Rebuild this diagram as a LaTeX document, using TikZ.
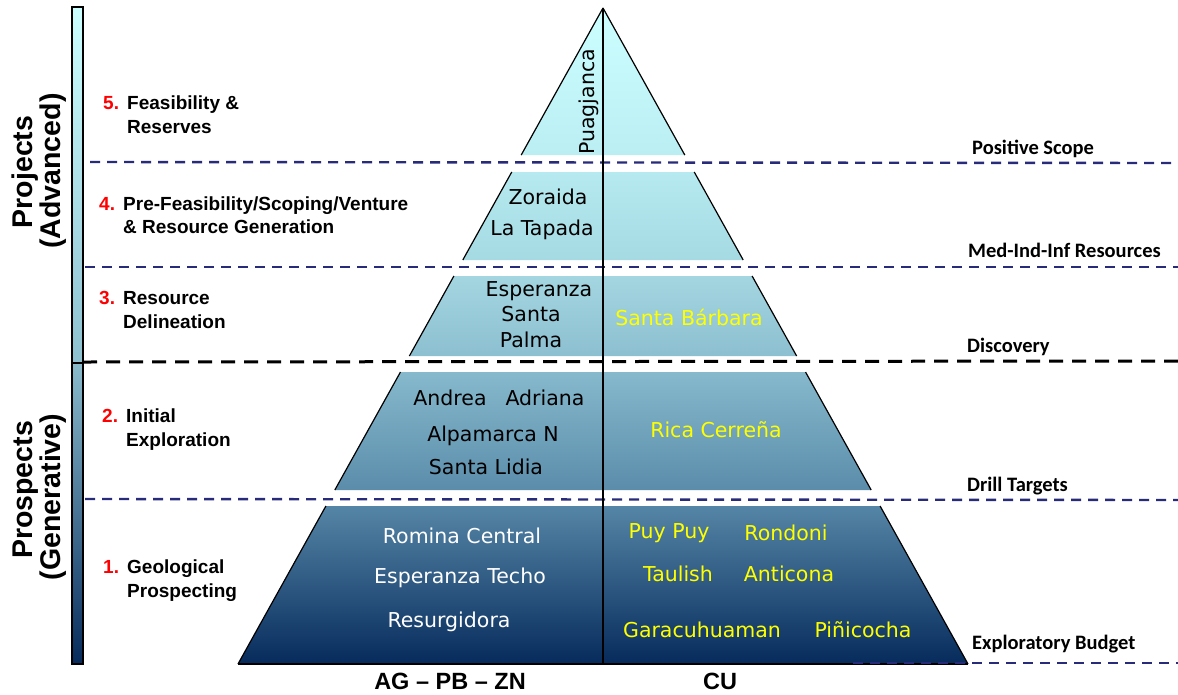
\documentclass[tikz,border=0pt]{standalone}
\usepackage{fontspec}
\setmainfont{Liberation Sans}
\newfontfamily\dvfont{DejaVu Sans}
\newfontfamily\calfont{Carlito}
\definecolor{navy}{RGB}{40,42,122}
\definecolor{ylw}{RGB}{255,255,0}
\newcommand\pyrband[4]{%
 \pgfmathsetmacro\hwa{0.5564*(#1-8)}%
 \pgfmathsetmacro\hwb{0.5564*(#2-8)}%
 \shade[top color=#3,bottom color=#4] ({603-\hwa},-#1) -- ({603+\hwa},-#1) -- ({603+\hwb},-#2) -- ({603-\hwb},-#2) -- cycle;
 \draw[edgeln] ({603-\hwa},-#1) -- ({603-\hwb},-#2);
 \draw[edgeln] ({603+\hwa},-#1) -- ({603+\hwb},-#2);}
\begin{document}
\begin{tikzpicture}[x=1pt,y=1pt,
  stage/.style={font=\fontsize{19}{22}\selectfont\bfseries, anchor=base west, inner sep=0},
  num/.style={stage, text=red},
  gate/.style={font=\calfont\fontsize{20.5}{24}\selectfont\bfseries, anchor=base west, inner sep=0},
  ptxt/.style={font=\dvfont\fontsize{20.5}{24}\selectfont, anchor=base, inner sep=0},
  ytxt/.style={ptxt, text=ylw},
  wtxt/.style={ptxt, text=white},
  side/.style={font=\fontsize{28.5}{32}\selectfont\bfseries, rotate=90, anchor=base, inner sep=0},
  bottxt/.style={font=\fontsize{23.5}{28}\selectfont\bfseries, anchor=base, inner sep=0},
  gateline/.style={navy, line width=2.4pt, dash pattern=on 10pt off 7pt},
  discline/.style={black, line width=3pt, dash pattern=on 14pt off 9pt},
  edgeln/.style={black, line width=1.2pt},
  barbox/.style={draw=black, line width=1.5pt}]
\useasboundingbox (0,0) rectangle (1178,-694);
% gate lines
\coordinate (g1a) at (90,-162); \coordinate (g1b) at (1178,-163);
\coordinate (g2a) at (85,-267); \coordinate (g2b) at (1178,-267);
\coordinate (g3a) at (83,-362); \coordinate (g3b) at (1178,-361);
\coordinate (g4a) at (85,-499); \coordinate (g4b) at (1178,-500);
\coordinate (g5a) at (853,-663); \coordinate (g5b) at (1178,-663);
\draw[gateline] (g1a) -- (g1b);
\draw[gateline] (g2a) -- (g2b);
\draw[discline] (g3a) -- (g3b);
\draw[gateline] (g4a) -- (g4b);
% left bar
\shade[top color={rgb,255:red,204;green,255;blue,255}, bottom color={rgb,255:red,141;green,192;blue,208}] (72,-7) rectangle (83,-363);
\shade[top color={rgb,255:red,138;green,187;blue,204}, bottom color={rgb,255:red,6;green,43;blue,92}] (72,-363) rectangle (83,-664);
\draw[barbox] (72,-7) rectangle (83,-363);
\draw[barbox] (72,-363) rectangle (83,-664);
% pyramid
\pyrband{8}{155}{{rgb,255:red,204;green,255;blue,255}}{{rgb,255:red,186;green,238;blue,243}}
\pyrband{172}{260}{{rgb,255:red,182;green,234;blue,240}}{{rgb,255:red,165;green,218;blue,227}}
\pyrband{276}{356}{{rgb,255:red,164;green,214;blue,225}}{{rgb,255:red,140;green,191;blue,208}}
\pyrband{372}{490}{{rgb,255:red,134;green,185;blue,204}}{{rgb,255:red,91;green,141;blue,171}}
\pyrband{506}{664}{{rgb,255:red,85;green,133;blue,166}}{{rgb,255:red,6;green,43;blue,92}}
\coordinate (apex) at (603,-8);
\coordinate (bl) at (238,-664);
\coordinate (br) at (968,-664);
\coordinate (bc) at (603,-664);
\draw[edgeln] (bl) -- (br);
\draw[black, line width=1.5pt] (apex) -- (bc);
\draw[gateline] (g5a) -- (g5b);
% pyramid texts
\node[ptxt, rotate=90] (pua) at (594,-102) {Puagjanca};
\node[ptxt] (zor) at (548,-204) {Zoraida};
\node[ptxt] (lat) at (542,-235) {La Tapada};
\node[ptxt] (esp) at (539,-296) {Esperanza};
\node[ptxt] (san) at (531,-321) {Santa};
\node[ptxt] (pal) at (531,-347) {Palma};
\node[ytxt] (sba) at (689,-325) {Santa Bárbara};
\node[ptxt] (and) at (450,-405) {Andrea};
\node[ptxt] (adr) at (545,-405) {Adriana};
\node[ptxt] (alp) at (493,-441) {Alpamarca N};
\node[ptxt] (sli) at (486,-474) {Santa Lidia};
\node[ytxt] (ric) at (716,-437) {Rica Cerreña};
\node[wtxt] (rom) at (462,-543) {Romina Central};
\node[wtxt] (est) at (460,-583) {Esperanza Techo};
\node[wtxt] (res) at (449,-627) {Resurgidora};
\node[ytxt] (puy) at (669,-538) {Puy Puy};
\node[ytxt] (ron) at (786,-540) {Rondoni};
\node[ytxt] (tau) at (678,-581) {Taulish};
\node[ytxt] (ant) at (789,-581) {Anticona};
\node[ytxt] (gar) at (702,-637) {Garacuhuaman};
\node[ytxt] (pin) at (863,-637) {Piñicocha};
% bottom labels
\node[bottxt] (agpb) at (450,-689) {AG – PB – ZN};
\node[bottxt] (cu) at (720,-689) {CU};
% side labels
\node[side] (proj) at (32,-172) {Projects};
\node[side] (adv) at (60,-171) {(Advanced)};
\node[side] (pros) at (32,-490) {Prospects};
\node[side] (gen) at (60,-497) {(Generative)};
% stage labels
\node[num] (n5) at (103,-109) {5.};
\node[stage] (s5a) at (127,-109) {Feasibility \&};
\node[stage] (s5b) at (127,-133) {Reserves};
\node[num] (n4) at (99,-210) {4.};
\node[stage] (s4a) at (123,-210) {Pre-Feasibility/Scoping/Venture};
\node[stage] (s4b) at (123,-233) {\& Resource Generation};
\node[num] (n3) at (99,-304) {3.};
\node[stage] (s3a) at (123,-304) {Resource};
\node[stage] (s3b) at (123,-328) {Delineation};
\node[num] (n2) at (102,-422) {2.};
\node[stage] (s2a) at (126,-422) {Initial};
\node[stage] (s2b) at (126,-446) {Exploration};
\node[num] (n1) at (103,-573) {1.};
\node[stage] (s1a) at (127,-573) {Geological};
\node[stage] (s1b) at (127,-597) {Prospecting};
% gate labels
\node[gate] (gl1) at (972,-154) {Positive Scope};
\node[gate] (gl2) at (968,-257) {Med-Ind-Inf Resources};
\node[gate] (gl3) at (967,-352) {Discovery};
\node[gate] (gl4) at (967,-491) {Drill Targets};
\node[gate] (gl5) at (972,-649) {Exploratory Budget};
\end{tikzpicture}
\end{document}
